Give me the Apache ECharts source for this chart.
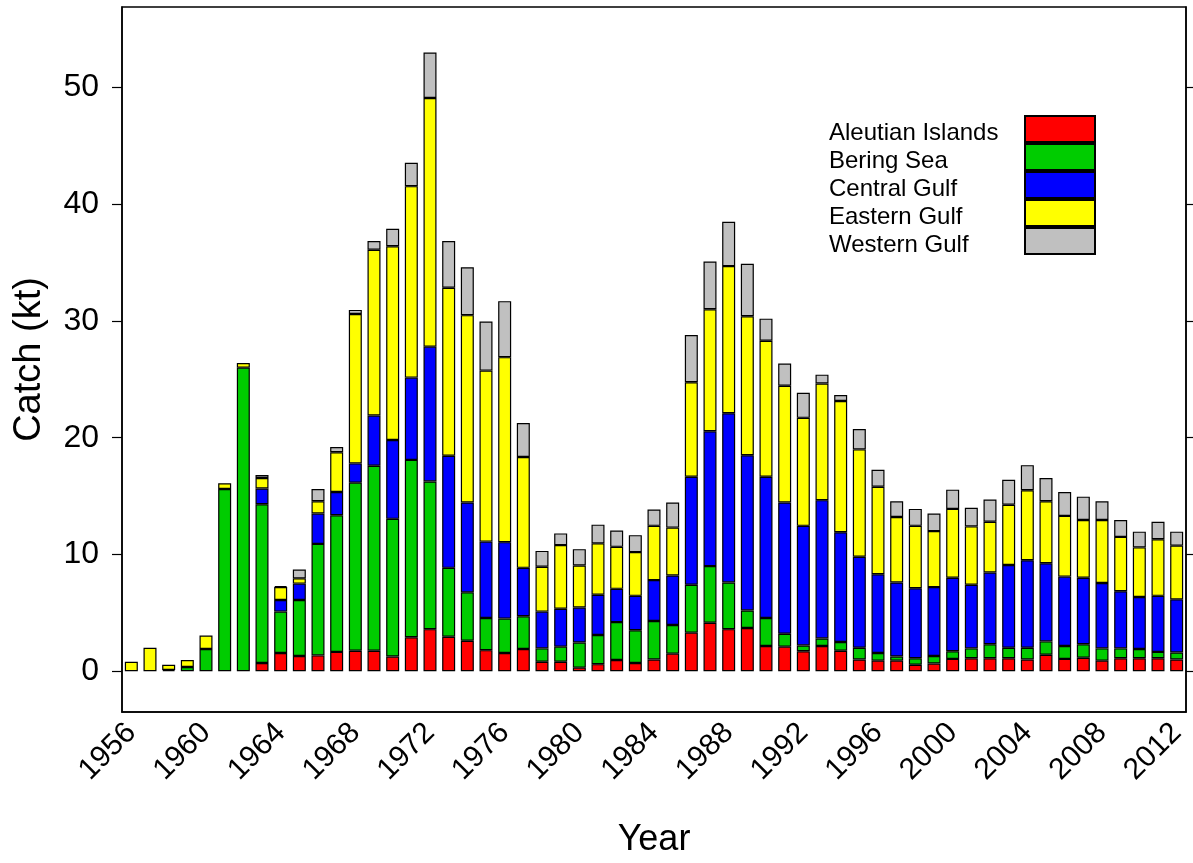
<!DOCTYPE html>
<html>
<head>
<meta charset="utf-8">
<script src="https://cdn.jsdelivr.net/npm/echarts@6/dist/echarts.min.js"></script>
<style>
  html, body { margin: 0; padding: 0; background: #fff; }
  #chart { width: 1193px; height: 863px; }
</style>
</head>
<body>
<div id="chart"></div>
<script>
// catch by area (kt), 1956-2012
const years = [];
for (let y = 1956; y <= 2012; y++) years.push(String(y));

const aleutian = [0, 0, 0, 0, 0, 0, 0, 0.7, 1.55, 1.3,
    1.35, 1.65, 1.75, 1.75, 1.25, 2.9, 3.6, 2.95, 2.6, 1.8,
    1.55, 1.9, 0.8, 0.8, 0.3, 0.6, 0.95, 0.7, 1.0, 1.5,
    3.3, 4.15, 3.6, 3.7, 2.15, 2.1, 1.7, 2.15, 1.75, 1.0,
    0.9, 0.9, 0.55, 0.65, 1.05, 1.1, 1.1, 1.1, 1.0, 1.4,
    1.05, 1.15, 0.9, 1.1, 1.1, 1.1, 1.0];
const bering = [0, 0, 0.1, 0.35, 1.9, 15.6, 26.0, 13.6, 3.55, 4.8,
    9.55, 11.7, 14.4, 15.85, 11.8, 15.2, 12.65, 5.9, 4.15, 2.75,
    2.95, 2.8, 1.15, 1.3, 2.15, 2.5, 3.25, 2.8, 3.3, 2.45,
    4.1, 4.85, 4.0, 1.5, 2.4, 1.1, 0.5, 0.65, 0.75, 1.0,
    0.65, 0.35, 0.55, 0.65, 0.65, 0.85, 1.2, 0.9, 1.0, 1.15,
    1.1, 1.15, 1.05, 0.85, 0.8, 0.55, 0.6];
const central = [0, 0, 0, 0, 0, 0, 0, 1.35, 1.0, 1.4,
    2.6, 2.0, 1.65, 4.3, 6.75, 7.05, 11.55, 9.6, 7.7, 6.55,
    6.55, 4.15, 3.15, 3.25, 3.0, 3.45, 2.85, 2.95, 3.5, 4.25,
    9.25, 11.55, 14.5, 13.3, 12.1, 11.25, 10.25, 11.85, 9.4, 7.8,
    6.75, 6.35, 6.0, 5.9, 6.3, 5.45, 6.15, 7.1, 7.5, 6.7,
    5.95, 5.7, 5.6, 4.9, 4.45, 4.8, 4.55];
const eastern = [0.8, 2.0, 0.45, 0.6, 1.15, 0.5, 0.4, 0.9, 1.1, 0.45,
    1.05, 3.4, 12.8, 14.2, 16.6, 16.4, 21.3, 14.4, 16.05, 14.65,
    15.85, 9.5, 3.85, 5.45, 3.6, 4.4, 3.6, 3.75, 4.65, 4.1,
    8.1, 10.45, 12.6, 11.9, 11.65, 10.0, 9.25, 10.0, 11.25, 9.2,
    7.5, 5.6, 5.35, 4.8, 5.9, 5.0, 4.35, 5.15, 6.0, 5.3,
    5.2, 4.95, 5.4, 4.65, 4.25, 4.85, 4.6];
const western = [0, 0, 0, 0, 0, 0, 0, 0.25, 0.1, 0.75,
    1.05, 0.45, 0.35, 0.75, 1.5, 2.0, 3.9, 4.0, 4.1, 4.2,
    4.8, 2.9, 1.35, 1.0, 1.4, 1.6, 1.4, 1.45, 1.4, 2.15,
    4.05, 4.1, 3.8, 4.5, 1.9, 1.9, 2.15, 0.75, 0.5, 1.75,
    1.45, 1.35, 1.45, 1.5, 1.65, 1.6, 1.9, 2.15, 2.15, 2.0,
    2.05, 2.0, 1.6, 1.45, 1.35, 1.5, 1.2];

const yTicks = [0, 10, 20, 30, 40, 50];

const areas = [
    { name: 'Aleutian Islands', color: '#ff0000', data: aleutian },
    { name: 'Bering Sea', color: '#00cc00', data: bering },
    { name: 'Central Gulf', color: '#0000ff', data: central },
    { name: 'Eastern Gulf', color: '#ffff00', data: eastern },
    { name: 'Western Gulf', color: '#c0c0c0', data: western }
];

const font = 'Liberation Sans, Arial, sans-serif';
const chart = echarts.init(document.getElementById('chart'));

const series = areas.map(a => ({
    name: a.name,
    type: 'bar',
    stack: 'catch',
    barWidth: 13,
    data: a.data.map(v => v || null),
    itemStyle: { color: a.color, borderColor: '#000', borderWidth: 1.2 }
}));

const names = areas.map(a => a.name);

chart.setOption({
    animation: false,
    textStyle: { fontFamily: font, color: '#000' },
    grid: {
        left: 122, right: 7, top: 7, bottom: 145,
        show: true, borderColor: '#000', borderWidth: 1.5
    },
    legend: [{
        // colour boxes
        data: names,
        icon: 'rect',
        orient: 'vertical',
        left: 1024, top: 115,
        itemWidth: 70, itemHeight: 26, itemGap: 0,
        padding: 0,
        formatter: () => '',
        selectedMode: false
    }, {
        // labels only
        data: names,
        orient: 'vertical',
        left: 822, top: 119,
        itemWidth: 1, itemHeight: 26, itemGap: 0,
        padding: 0,
        itemStyle: { opacity: 0 },
        textStyle: { fontSize: 24, color: '#000', fontFamily: font },
        selectedMode: false
    }],
    xAxis: {
        type: 'category',
        data: years,
        name: 'Year',
        nameLocation: 'middle',
        nameGap: 110,
        nameTextStyle: { fontSize: 36, color: '#000', fontFamily: font },
        axisLine: { onZero: false, lineStyle: { color: '#000', width: 1.5 } },
        axisTick: { show: false },
        axisLabel: {
            interval: 3, rotate: 45, fontSize: 30, margin: 16,
            color: '#000', fontFamily: font
        }
    },
    yAxis: [{
        type: 'value',
        min: -3.5, max: 56.9,
        name: 'Catch (kt)',
        nameLocation: 'middle',
        nameGap: 73,
        nameTextStyle: { fontSize: 38, color: '#000', fontFamily: font },
        axisLine: { show: true, lineStyle: { color: '#000', width: 1.5 } },
        axisTick: { show: true, length: 10, customValues: yTicks, lineStyle: { color: '#000', width: 1.2 } },
        axisLabel: { customValues: yTicks, fontSize: 32, margin: 23, color: '#000', fontFamily: font },
        splitLine: { show: false }
    }, {
        type: 'value',
        position: 'right',
        min: -3.5, max: 56.9,
        axisLine: { show: true, lineStyle: { color: '#000', width: 1.5 } },
        axisTick: { show: true, length: 7, customValues: yTicks, lineStyle: { color: '#000', width: 1.2 } },
        axisLabel: { show: false },
        splitLine: { show: false }
    }],
    series: series
});
</script>
</body>
</html>
